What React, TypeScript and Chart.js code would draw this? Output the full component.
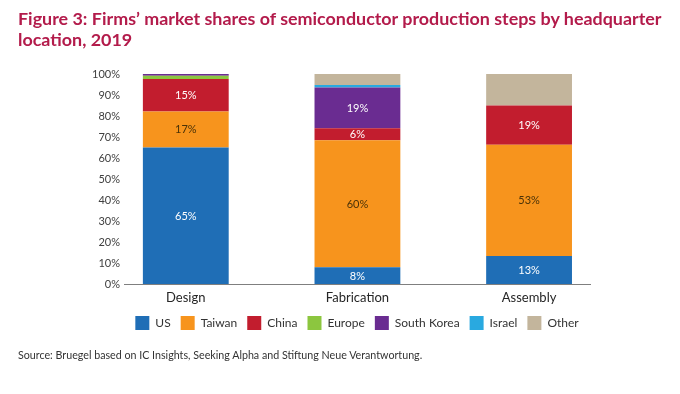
import React, { useEffect, useLayoutEffect, useRef } from 'react';
import { Chart, registerables } from 'chart.js';

Chart.register(...registerables);

const CATEGORIES = ['Design', 'Fabrication', 'Assembly'];
const SERIES_NAMES = ['US', 'Taiwan', 'China', 'Europe', 'South Korea', 'Israel', 'Other'];
const US = [65, 8, 13.3];
const TAIWAN = [17.2, 60.4, 53];
const CHINA = [15.4, 5.8, 18.7];
const EUROPE = [1.6, 0, 0];
const SOUTH_KOREA = [0.8, 19.4, 0];
const ISRAEL = [0, 1.2, 0];
const OTHER = [0, 5.2, 15];
const SERIES_VALUES = [US, TAIWAN, CHINA, EUROPE, SOUTH_KOREA, ISRAEL, OTHER];
const SERIES_COLORS = ['#1f6eb6', '#f7941d', '#c21d2e', '#8cc63f', '#6a2c91', '#29a9e0', '#c3b59c'];
const LABELED_SERIES = ['US', 'Taiwan', 'China', 'South Korea'];
const LABEL_COLORS: Record<string, string> = {
  US: '#ffffff',
  Taiwan: '#4a3208',
  China: '#ffffff',
  'South Korea': '#ffffff',
};
const Y_TICKS = [0, 10, 20, 30, 40, 50, 60, 70, 80, 90, 100];
const TITLE_LINES = [
  'Figure 3: Firms\u2019 market shares of semiconductor production steps by headquarter',
  'location, 2019',
];
const SOURCE = 'Source: Bruegel based on IC Insights, Seeking Alpha and Stiftung Neue Verantwortung.';

const FONT = 'Lato, "Open Sans", sans-serif';
const TITLE_WIDTH = 644;

const segmentLabels = {
  id: 'segmentLabels',
  afterDatasetsDraw(chart: any) {
    const ctx = chart.ctx;
    ctx.save();
    ctx.font = `11px ${FONT}`;
    ctx.textAlign = 'center';
    ctx.textBaseline = 'middle';
    chart.data.datasets.forEach((ds: any, i: number) => {
      if (!LABELED_SERIES.includes(ds.label)) return;
      const meta = chart.getDatasetMeta(i);
      meta.data.forEach((bar: any, j: number) => {
        const v = ds.data[j].y;
        if (v < 5) return;
        const p = bar.getProps(['x', 'y', 'base'], true);
        ctx.fillStyle = LABEL_COLORS[ds.label];
        ctx.fillText(Math.round(v) + '%', p.x, (p.y + p.base) / 2 + 0.5);
      });
    });
    ctx.restore();
  },
};

export default function App() {
  const canvasRef = useRef<HTMLCanvasElement | null>(null);
  const titleRef = useRef<HTMLDivElement | null>(null);

  useLayoutEffect(() => {
    const el = titleRef.current;
    if (!el) return;
    const first = el.firstElementChild as HTMLElement | null;
    if (!first) return;
    const w = first.scrollWidth;
    if (w > 0) el.style.transform = `scaleX(${TITLE_WIDTH / w})`;
  }, []);

  useEffect(() => {
    if (!canvasRef.current) return;
    const chart = new Chart(canvasRef.current, {
      type: 'bar',
      data: {
        datasets: SERIES_NAMES.map((name, i) => ({
          label: name,
          data: SERIES_VALUES[i].map((v, k) => ({ x: k, y: v })),
          backgroundColor: SERIES_COLORS[i],
          borderWidth: 0,
          barPercentage: 0.5,
          categoryPercentage: 1,
        })),
      },
      options: {
        animation: false,
        responsive: false,
        maintainAspectRatio: false,
        layout: { padding: { left: 84, right: 90, top: 74, bottom: 54 } },
        plugins: {
          legend: {
            position: 'bottom',
            fullSize: false,
            labels: {
              boxWidth: 14,
              boxHeight: 14,
              padding: 10,
              color: '#333333',
              font: { family: FONT, size: 12 },
            },
          },
          title: { display: false },
          tooltip: { enabled: false },
        },
        scales: {
          x: {
            type: 'linear',
            stacked: true,
            offset: false,
            min: -0.36,
            max: 2.355,
            grid: { display: false, drawTicks: false },
            border: { display: true, color: '#7f7f7f', width: 1 },
            afterBuildTicks: (scale: any) => {
              scale.ticks = CATEGORIES.map((_, i) => ({ value: i }));
            },
            afterFit: (scale: any) => {
              scale.height = 22;
            },
            ticks: {
              autoSkip: false,
              maxRotation: 0,
              padding: 6,
              color: '#262626',
              font: { family: FONT, size: 13 },
              callback: (v: any) => CATEGORIES[v] ?? '',
            },
          },
          y: {
            stacked: true,
            min: 0,
            max: 100,
            grid: { display: false, drawTicks: false },
            border: { display: false },
            afterBuildTicks: (scale: any) => {
              scale.ticks = Y_TICKS.map((v) => ({ value: v }));
            },
            afterFit: (scale: any) => {
              scale.width = 40;
            },
            ticks: {
              padding: 4,
              color: '#404040',
              font: { family: FONT, size: 11 },
              callback: (v: any) => v + '%',
            },
          },
        },
      },
      plugins: [segmentLabels],
    } as any);
    return () => chart.destroy();
  }, []);

  return (
    <div style={{ position: 'absolute', left: 0, top: 0, width: 680, height: 394, background: '#ffffff', overflow: 'hidden' }}>
      <canvas ref={canvasRef} width={680} height={394} style={{ position: 'absolute', left: 0, top: 0 }} />
      <div
        ref={titleRef}
        style={{
          position: 'absolute',
          left: 18,
          top: 8,
          fontFamily: FONT,
          fontWeight: 'bold',
          fontSize: 17,
          lineHeight: '21px',
          color: '#b31b4b',
          whiteSpace: 'nowrap',
          transformOrigin: 'left top',
        }}
      >
        {TITLE_LINES.map((t) => (
          <div key={t} style={{ display: 'table' }}>{t}</div>
        ))}
      </div>
      <div
        style={{
          position: 'absolute',
          left: 18,
          top: 348,
          fontFamily: FONT,
          fontSize: 10.7,
          color: '#333333',
          whiteSpace: 'nowrap',
        }}
      >
        {SOURCE}
      </div>
    </div>
  );
}
